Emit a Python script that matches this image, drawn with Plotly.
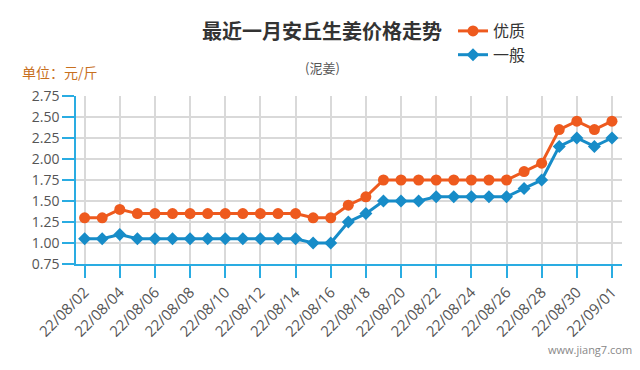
import plotly.graph_objects as go

dates = ["22/08/02", "22/08/03", "22/08/04", "22/08/05", "22/08/06", "22/08/07",
         "22/08/08", "22/08/09", "22/08/10", "22/08/11", "22/08/12", "22/08/13",
         "22/08/14", "22/08/15", "22/08/16", "22/08/17", "22/08/18", "22/08/19",
         "22/08/20", "22/08/21", "22/08/22", "22/08/23", "22/08/24", "22/08/25",
         "22/08/26", "22/08/27", "22/08/28", "22/08/29", "22/08/30", "22/08/31",
         "22/09/01"]

youzhi = [1.30, 1.30, 1.40, 1.35, 1.35, 1.35, 1.35, 1.35, 1.35, 1.35, 1.35, 1.35,
          1.35, 1.30, 1.30, 1.45, 1.55, 1.75, 1.75, 1.75, 1.75, 1.75, 1.75, 1.75,
          1.75, 1.85, 1.95, 2.35, 2.45, 2.35, 2.45]

yiban = [1.05, 1.05, 1.10, 1.05, 1.05, 1.05, 1.05, 1.05, 1.05, 1.05, 1.05, 1.05,
         1.05, 1.00, 1.00, 1.25, 1.35, 1.50, 1.50, 1.50, 1.55, 1.55, 1.55, 1.55,
         1.55, 1.65, 1.75, 2.15, 2.25, 2.15, 2.25]

y_ticks = [0.75, 1.00, 1.25, 1.50, 1.75, 2.00, 2.25, 2.50, 2.75]
x_ticks = dates[::2]

ORANGE = "#EE5A1E"
BLUE = "#178CC8"
AXIS = "#2AACE2"
GRID = "#D9D9D9"
FONT = "Open Sans, Noto Sans CJK SC, sans-serif"

W, H = 640, 370
PL, PR, PT, PB = 76, 622, 96, 264  # plot area in pixels


def px(x):
    return (x - PL) / (PR - PL)


def py(y):
    return (PB - y) / (PB - PT)


fig = go.Figure()
fig.add_trace(go.Scatter(
    x=dates, y=youzhi, name="优质", mode="lines+markers",
    line=dict(color=ORANGE, width=3),
    marker=dict(symbol="circle", size=11, color=ORANGE),
))
fig.add_trace(go.Scatter(
    x=dates, y=yiban, name="一般", mode="lines+markers",
    line=dict(color=BLUE, width=3),
    marker=dict(symbol="diamond", size=10, color=BLUE),
))

fig.update_layout(
    width=W, height=H,
    margin=dict(l=PL, r=W - PR, t=PT, b=H - PB),
    paper_bgcolor="white", plot_bgcolor="white",
    font=dict(family=FONT, color="#555555"),
    showlegend=True,
    legend=dict(
        x=px(453), y=py(14), xanchor="left", yanchor="top",
        font=dict(size=16, color="#333333", family="Noto Sans CJK SC"),
        itemwidth=30, bgcolor="rgba(0,0,0,0)", tracegroupgap=0,
    ),
    xaxis=dict(
        type="category", range=[-0.49, 30.57],
        tickmode="array", tickvals=x_ticks, ticktext=x_ticks,
        tickangle=-45, tickfont=dict(size=15, color="#555555"),
        ticks="outside", ticklen=12, tickcolor=AXIS, tickwidth=1.5,
        showgrid=True, gridcolor=GRID, gridwidth=1.5,
        showline=True, linecolor=AXIS, linewidth=1.5,
        zeroline=False, fixedrange=True,
    ),
    yaxis=dict(
        range=[0.75, 2.75], tickmode="array", tickvals=y_ticks,
        ticktext=[f"{v:.2f}" for v in y_ticks],
        tickfont=dict(size=14, color="#555555"),
        ticks="outside", ticklen=12, tickcolor=AXIS, tickwidth=1.5,
        showgrid=True, gridcolor=GRID, gridwidth=1.5,
        showline=True, linecolor=AXIS, linewidth=1.5,
        zeroline=False, fixedrange=True,
    ),
    annotations=[
        dict(text="<b>最近一月安丘生姜价格走势</b>", x=px(322), y=py(30.5),
             xanchor="center", yanchor="middle",
             font=dict(size=20, color="#333333", family="Noto Sans CJK SC")),
        dict(text="(泥姜)", x=px(322), y=py(67),
             xanchor="center", yanchor="middle",
             font=dict(size=13, color="#555555", family="Noto Sans CJK SC")),
        dict(text="单位：元/斤", x=px(20), y=py(72),
             xanchor="left", yanchor="middle",
             font=dict(size=14, color="#C8701E", family="Noto Sans CJK SC")),
        dict(text="www.jiang7.com", x=px(634), y=py(349),
             xanchor="right", yanchor="middle",
             font=dict(size=11, color="#888888", family="Open Sans")),
    ],
)
for a in fig.layout.annotations:
    a.xref = "paper"
    a.yref = "paper"
    a.showarrow = False

fig.write_html(
    "out.html",
    config={"displayModeBar": False},
    post_script="document.body.style.margin='0';document.body.style.overflow='hidden';",
)
